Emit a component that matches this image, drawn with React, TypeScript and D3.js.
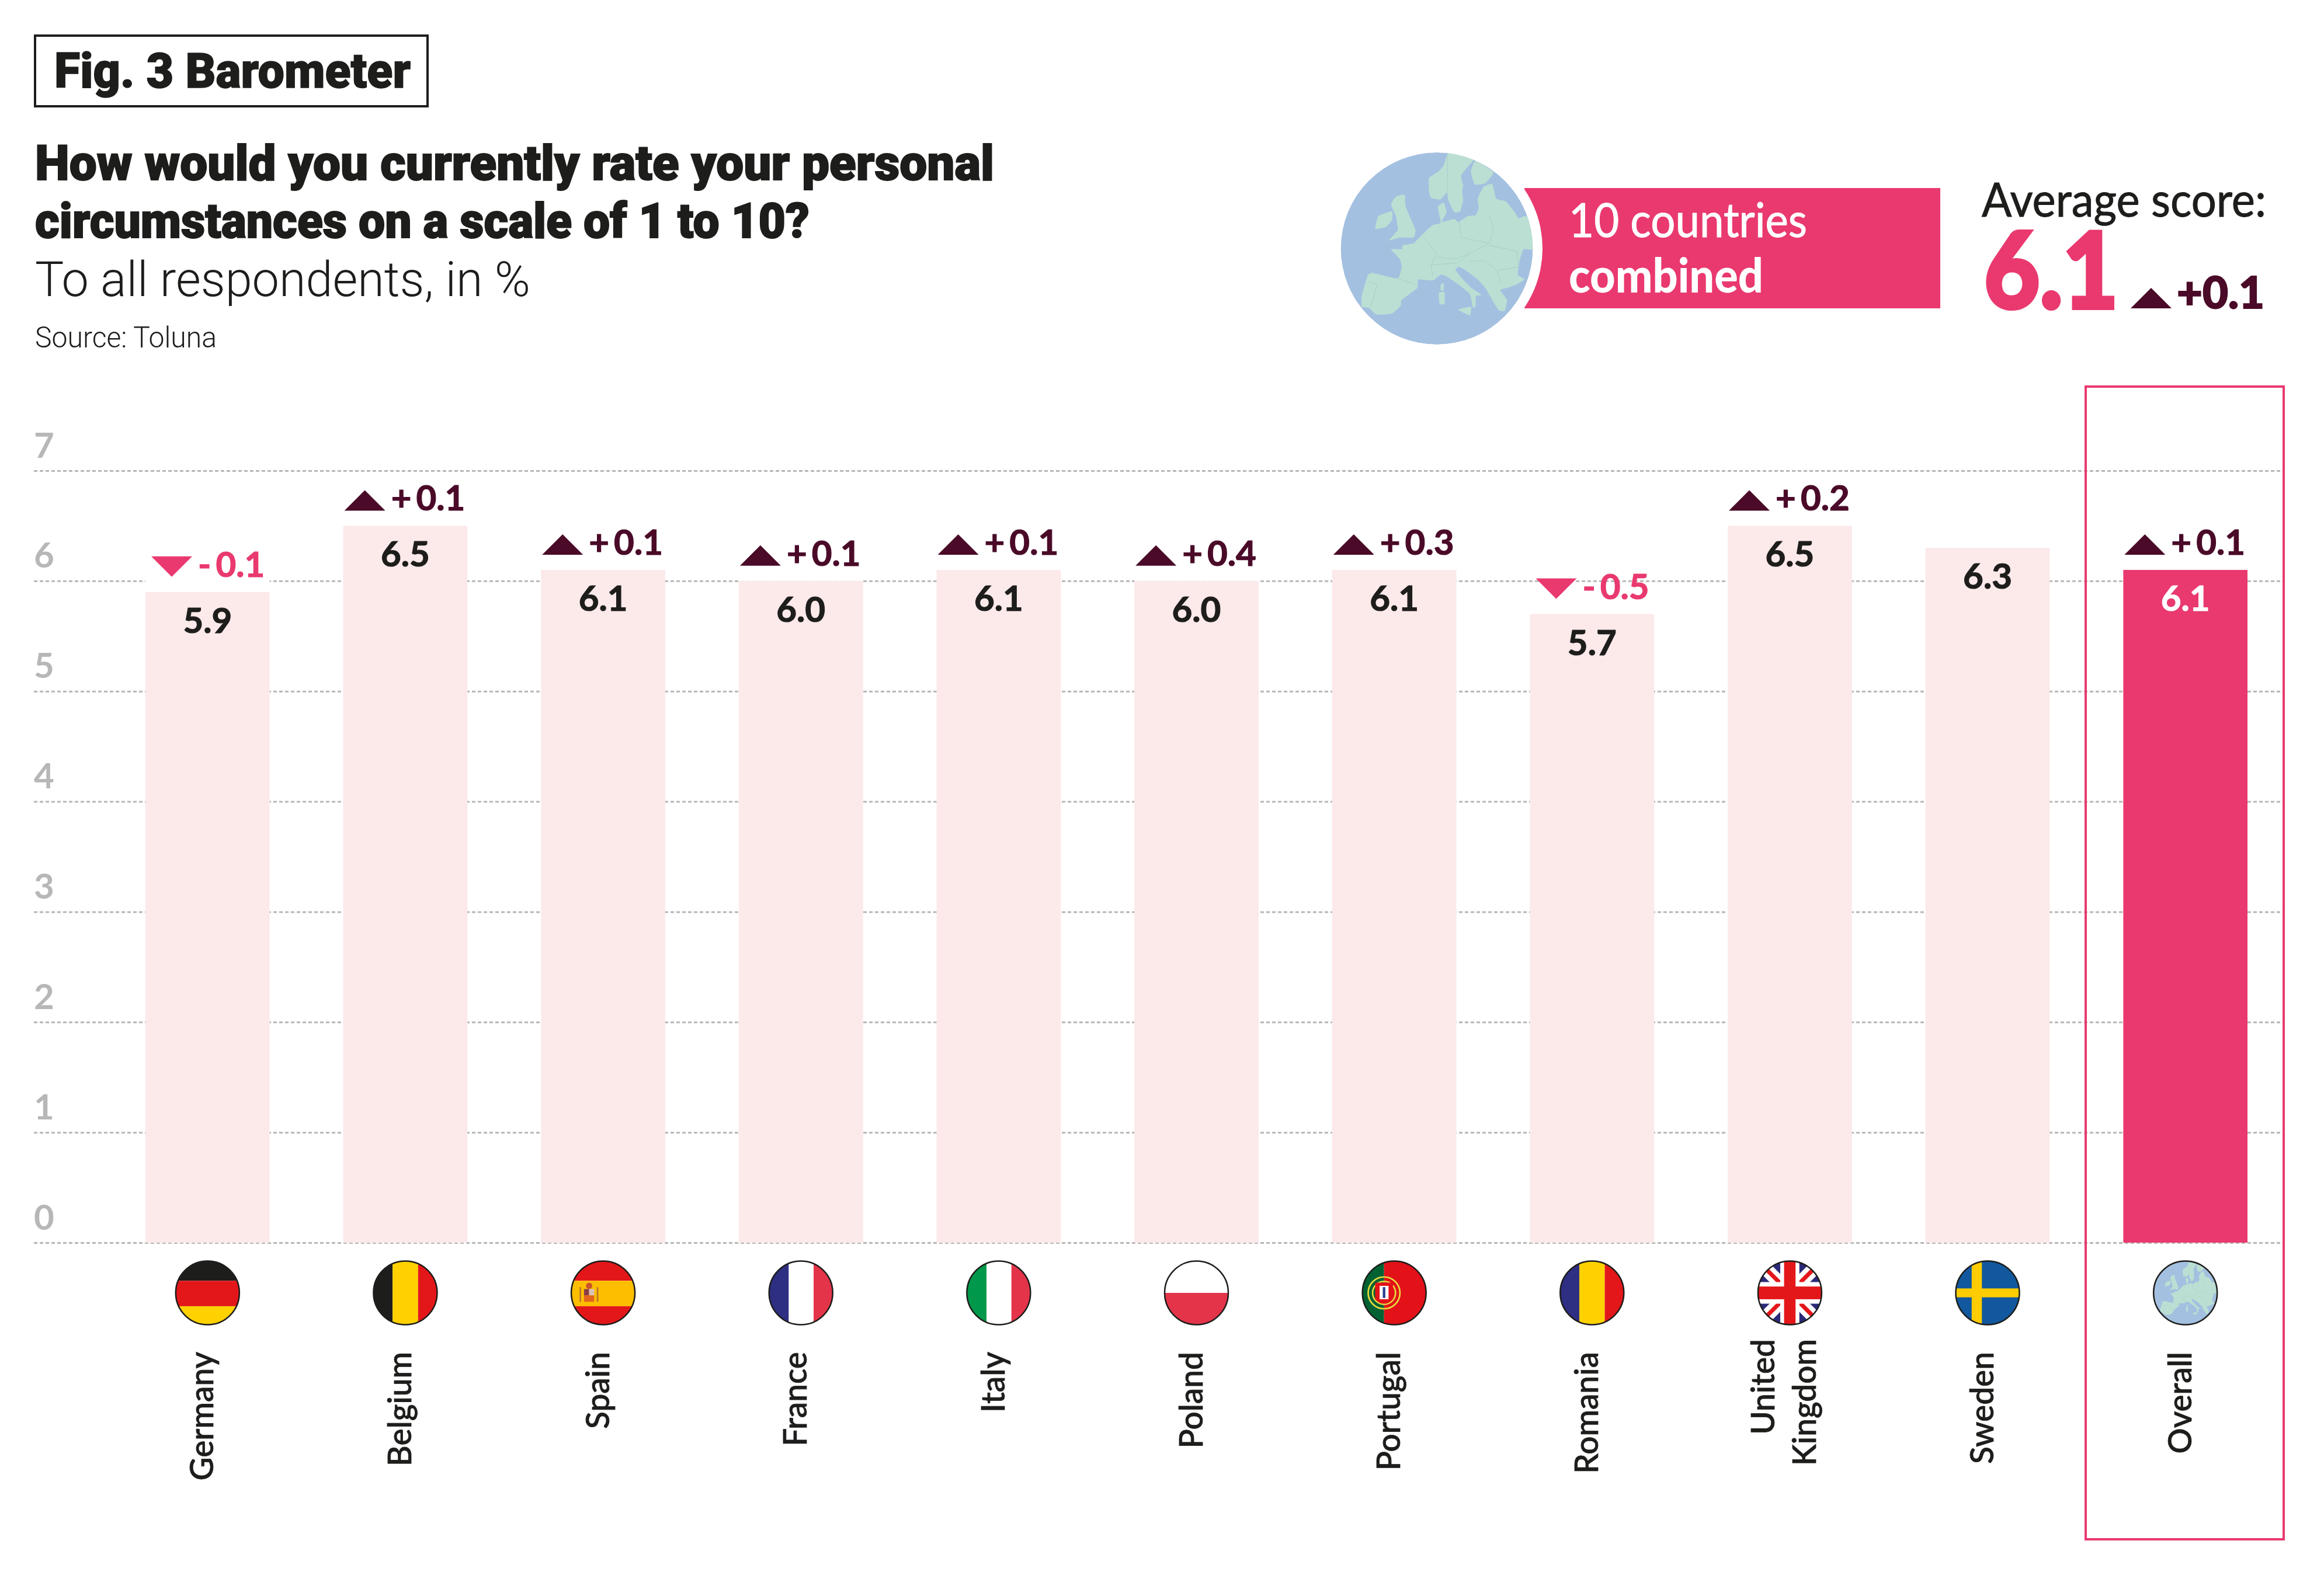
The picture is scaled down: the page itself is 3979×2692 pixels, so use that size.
import * as d3 from 'd3'
import { FC, useEffect, useRef } from 'react'

const countries = ['Germany', 'Belgium', 'Spain', 'France', 'Italy', 'Poland', 'Portugal', 'Romania', 'United Kingdom', 'Sweden', 'Overall']
const scores = [5.9, 6.5, 6.1, 6.0, 6.1, 6.0, 6.1, 5.7, 6.5, 6.3, 6.1]
const changes: (number | null)[] = [-0.1, 0.1, 0.1, 0.1, 0.1, 0.4, 0.3, -0.5, 0.2, null, 0.1]
const yTicks = [0, 1, 2, 3, 4, 5, 6, 7]

const PINK = '#e9396f'
const PALE = '#fce9ea'
const DARK = '#1d1d1b'
const WINE = '#4a0a28'
const GREY = '#b7b7b7'
const OCEAN = '#a4c0e0'
const LAND = '#bbdfd3'
const SANS = 'Lato, sans-serif'

// stripes: direction, then colours with their share of the flag
type Stripes = { dir: 'h' | 'v', parts: [string, number][] }
const flagStripes: Record<string, Stripes> = {
    Germany: { dir: 'h', parts: [['#1d1d1b', 0.31], ['#e3171a', 0.4], ['#ffd100', 0.29]] },
    Belgium: { dir: 'v', parts: [['#1d1d1b', 0.3], ['#ffd100', 0.4], ['#e3171a', 0.3]] },
    Spain: { dir: 'h', parts: [['#e3171a', 0.31], ['#fdbe00', 0.4], ['#e3171a', 0.29]] },
    France: { dir: 'v', parts: [['#2e2e82', 0.31], ['#ffffff', 0.39], ['#e4344a', 0.3]] },
    Italy: { dir: 'v', parts: [['#00984a', 0.31], ['#ffffff', 0.39], ['#e4344a', 0.3]] },
    Poland: { dir: 'h', parts: [['#ffffff', 0.5], ['#e4344a', 0.5]] },
    Portugal: { dir: 'v', parts: [['#006233', 0.34], ['#e31118', 0.66]] },
    Romania: { dir: 'v', parts: [['#2e2e82', 0.3], ['#ffd100', 0.4], ['#e3171a', 0.3]] },
}

// rough outline of Europe, traced on a 986 wide globe centred on (630, 586)
const mainland: [number, number][] = [[245, 830], [275, 725], [300, 712], [430, 740], [450, 680], [440, 640], [395, 590], [450, 590], [455, 570], [510, 560], [545, 525], [580, 490], [610, 465], [650, 455], [640, 400], [635, 370], [665, 350], [680, 400], [655, 450], [720, 435], [740, 450], [790, 420], [830, 415], [845, 380], [840, 330], [870, 270], [915, 255], [935, 330], [985, 345], [1030, 400], [1050, 430], [1085, 420], [1130, 470], [1130, 590], [1075, 590], [1055, 650], [1045, 720], [1080, 745], [1040, 770], [985, 790], [955, 800], [990, 850], [980, 905], [950, 905], [920, 860], [880, 790], [840, 745], [780, 700], [745, 680], [725, 695], [760, 740], [810, 790], [860, 825], [830, 830], [830, 880], [815, 890], [800, 820], [740, 770], [680, 730], [650, 720], [610, 750], [535, 745], [530, 790], [450, 850], [445, 880], [400, 920], [320, 925], [280, 890], [245, 885]]
const scandinavia: [number, number][] = [[690, 95], [790, 115], [820, 130], [755, 210], [765, 260], [760, 290], [765, 340], [750, 395], [720, 400], [690, 340], [680, 300], [650, 335], [600, 325], [590, 290], [590, 225], [640, 190], [665, 160]]
const finland: [number, number][] = [[830, 135], [920, 195], [880, 250], [825, 258], [805, 190]]
const britain: [number, number][] = [[420, 320], [465, 310], [470, 370], [520, 490], [510, 530], [440, 530], [385, 545], [430, 490], [420, 420], [395, 360]]
const ireland: [number, number][] = [[330, 420], [400, 395], [400, 440], [370, 475], [315, 485]]
const sicily: [number, number][] = [[740, 900], [805, 885], [800, 930]]
const sardinia: [number, number][] = [[640, 815], [670, 810], [670, 870], [645, 870]]
const corsica: [number, number][] = [[650, 770], [665, 765], [665, 800], [650, 800]]
const landShapes = [mainland, scandinavia, finland, britain, ireland, sicily, sardinia, corsica]
const borders: [number, number][][] = [
    [[285, 760], [325, 770], [290, 890]],
    [[430, 740], [530, 775]],
    [[560, 530], [630, 610], [600, 670], [610, 730]],
    [[745, 450], [755, 530], [900, 560], [920, 490], [900, 420]],
    [[630, 630], [730, 640], [800, 610], [900, 560]],
    [[600, 670], [740, 660], [800, 610]],
    [[900, 570], [1040, 600], [1050, 680], [940, 700], [880, 650], [800, 650]],
    [[940, 700], [960, 770]],
    [[685, 110], [685, 320]],
]

const globeLine = d3.line().curve(d3.curveCardinalClosed.tension(0.6))
const borderLine = d3.line()

const Globe: FC<{ id: string, cx: number, cy: number, r: number, outline?: boolean }> = ({ id, cx, cy, r, outline }) => {
    const gx = d3.scaleLinear().domain([137, 1123]).range([cx - r, cx + r])
    const gy = d3.scaleLinear().domain([93, 1079]).range([cy - r, cy + r])
    const project = (pts: [number, number][]) => pts.map(([a, b]) => [gx(a), gy(b)] as [number, number])
    return (
        <g>
            <clipPath id={id}><circle cx={cx} cy={cy} r={r} /></clipPath>
            <g clipPath={`url(#${id})`}>
                <circle cx={cx} cy={cy} r={r} fill={OCEAN} />
                {landShapes.map((s, i) => <path key={i} d={globeLine(project(s))!} fill={LAND} />)}
                {borders.map((s, i) => <path key={i} d={borderLine(project(s))!} fill="none" stroke="#a8cfc8" strokeWidth={r / 165} />)}
            </g>
            {outline && <circle cx={cx} cy={cy} r={r} fill="none" stroke={DARK} strokeWidth={2.5} />}
        </g>
    )
}

const Flag: FC<{ name: string, cx: number, cy: number, r: number }> = ({ name, cx, cy, r }) => {
    if (name === 'Overall') return <Globe id="globe-small" cx={cx} cy={cy} r={r} outline />
    const id = `flag-${name.replace(' ', '')}`
    const fx = d3.scaleLinear().domain([0, 1]).range([cx - r, cx + r])
    const fy = d3.scaleLinear().domain([0, 1]).range([cy - r, cy + r])
    const stripes = flagStripes[name]
    let pos = 0
    return (
        <g>
            <clipPath id={id}><circle cx={cx} cy={cy} r={r} /></clipPath>
            <g clipPath={`url(#${id})`}>
                {stripes && stripes.parts.map(([c, share], i) => {
                    const start = pos
                    pos += share
                    return stripes.dir === 'h'
                        ? <rect key={i} x={fx(0)} y={fy(start)} width={2 * r} height={2 * r * share} fill={c} />
                        : <rect key={i} x={fx(start)} y={fy(0)} width={2 * r * share} height={2 * r} fill={c} />
                })}
                {name === 'Spain' && (
                    <g>
                        <rect x={fx(0.13)} y={fy(0.41)} width={r * 0.05} height={r * 0.46} fill="#b9762a" />
                        <rect x={fx(0.4)} y={fy(0.41)} width={r * 0.05} height={r * 0.46} fill="#b9762a" />
                        <circle cx={fx(0.28)} cy={fy(0.39)} r={r * 0.1} fill="#c8532a" />
                        <rect x={fx(0.2)} y={fy(0.44)} width={r * 0.16} height={r * 0.2} fill="#8a3b4a" />
                        <rect x={fx(0.28)} y={fy(0.44)} width={r * 0.16} height={r * 0.2} fill="#d9c2b8" />
                        <rect x={fx(0.2)} y={fy(0.54)} width={r * 0.32} height={r * 0.2} fill="#e2661f" />
                    </g>
                )}
                {name === 'Portugal' && (
                    <g>
                        <circle cx={fx(0.34)} cy={fy(0.5)} r={r * 0.5} fill="none" stroke="#e6d93c" strokeWidth={r * 0.05} />
                        <circle cx={fx(0.34)} cy={fy(0.5)} r={r * 0.36} fill="none" stroke="#e6d93c" strokeWidth={r * 0.05} />
                        <path d={`M${fx(0.2)},${fy(0.34)}H${fx(0.48)}V${fy(0.6)}Q${fx(0.34)},${fy(0.74)} ${fx(0.2)},${fy(0.6)}Z`} fill="#e31118" />
                        <rect x={fx(0.27)} y={fy(0.39)} width={r * 0.28} height={r * 0.42} fill="#ffffff" />
                        <rect x={fx(0.32)} y={fy(0.41)} width={r * 0.08} height={r * 0.34} fill="#2a3f8f" />
                    </g>
                )}
                {name === 'Sweden' && (
                    <g>
                        <rect x={fx(0)} y={fy(0)} width={2 * r} height={2 * r} fill="#12589e" />
                        <rect x={fx(0.25)} y={fy(0)} width={r * 0.32} height={2 * r} fill="#fecc00" />
                        <rect x={fx(0)} y={fy(0.43)} width={2 * r} height={r * 0.28} fill="#fecc00" />
                    </g>
                )}
                {name === 'United Kingdom' && (
                    <g>
                        <rect x={fx(0)} y={fy(0)} width={2 * r} height={2 * r} fill="#2c2a78" />
                        <path d={`M${fx(0)},${fy(0)}L${fx(1)},${fy(1)}M${fx(1)},${fy(0)}L${fx(0)},${fy(1)}`} stroke="#ffffff" strokeWidth={r * 0.42} />
                        <path d={`M${fx(0)},${fy(0)}L${fx(1)},${fy(1)}M${fx(1)},${fy(0)}L${fx(0)},${fy(1)}`} stroke="#e3171a" strokeWidth={r * 0.13} />
                        <rect x={fx(0.35)} y={fy(0)} width={r * 0.6} height={2 * r} fill="#ffffff" />
                        <rect x={fx(0)} y={fy(0.33)} width={2 * r} height={r * 0.68} fill="#ffffff" />
                        <rect x={fx(0.41)} y={fy(0)} width={r * 0.36} height={2 * r} fill="#e3171a" />
                        <rect x={fx(0)} y={fy(0.4)} width={2 * r} height={r * 0.4} fill="#e3171a" />
                    </g>
                )}
            </g>
            <circle cx={cx} cy={cy} r={r} fill="none" stroke={DARK} strokeWidth={2.5} />
        </g>
    )
}

const trianglePath = (x: number, base: number, up: boolean) => {
    const w = 70
    const h = 35
    return up
        ? `M${x},${base}L${x + w},${base}L${x + w / 2},${base - h}Z`
        : `M${x},${base - h}L${x + w},${base - h}L${x + w / 2},${base}Z`
}

const App: FC = () => {
    const width = 3979
    const height = 2692
    const axisRef = useRef<SVGGElement>(null)

    const x = d3.scaleBand<string>().domain(countries).range([249, 3848]).paddingInner(0.372).paddingOuter(0)
    const y = d3.scaleLinear().domain([0, 7]).range([2128, 806])

    useEffect(() => {
        const axis = d3.axisRight(y).tickValues(yTicks).tickSize(3851).tickFormat(d3.format('d') as any)
        const g = d3.select(axisRef.current!).call(axis as any)
        g.select('.domain').remove()
        g.selectAll('.tick line')
            .attr('stroke', GREY)
            .attr('stroke-width', 3)
            .attr('stroke-dasharray', '6 4')
        g.selectAll('.tick text')
            .attr('x', 0)
            .attr('dy', -23)
            .attr('text-anchor', 'start')
            .attr('fill', GREY)
            .attr('font-family', SANS)
            .attr('font-weight', 700)
            .attr('font-size', 60)
    }, [])

    const bw = x.bandwidth()

    return (
        <svg width={width} height={height} style={{ position: 'absolute', left: 0, top: 0, display: 'block', background: '#fff' }}>
            {/* header */}
            <rect x={60} y={61} width={672} height={121} fill="none" stroke={DARK} strokeWidth={4} />
            <text x={93} y={150} fontFamily="Roboto, sans-serif" fontWeight={900} fontSize={84} fill={DARK} stroke={DARK} strokeWidth={1.5} textLength={610} lengthAdjust="spacingAndGlyphs">Fig. 3 Barometer</text>
            <text x={60} y={308} fontFamily="Roboto, sans-serif" fontWeight={900} fontSize={84} fill={DARK} stroke={DARK} strokeWidth={2} textLength={1642} lengthAdjust="spacingAndGlyphs">How would you currently rate your personal</text>
            <text x={60} y={407} fontFamily="Roboto, sans-serif" fontWeight={900} fontSize={84} fill={DARK} stroke={DARK} strokeWidth={2} textLength={1326} lengthAdjust="spacingAndGlyphs">circumstances on a scale of 1 to 10?</text>
            <text x={60} y={507} fontFamily="Roboto, sans-serif" fontWeight={300} fontSize={84} fill={DARK} textLength={848} lengthAdjust="spacingAndGlyphs">To all respondents, in %</text>
            <text x={60} y={595} fontFamily="Roboto, sans-serif" fontWeight={300} fontSize={50} fill={DARK} textLength={311} lengthAdjust="spacingAndGlyphs">Source: Toluna</text>

            {/* top right summary */}
            <rect x={2610} y={322} width={712} height={206} fill={PINK} />
            <circle cx={2460} cy={425.5} r={181} fill="#fff" />
            <Globe id="globe-large" cx={2460} cy={425.5} r={164.5} />
            <text x={2686} y={406} fontFamily={SANS} fontWeight={400} fontSize={82} fill="#fff" stroke="#fff" strokeWidth={1} textLength={408} lengthAdjust="spacingAndGlyphs">10 countries</text>
            <text x={2686} y={501} fontFamily={SANS} fontWeight={900} fontSize={82} fill="#fff" textLength={333} lengthAdjust="spacingAndGlyphs">combined</text>
            <text x={3393} y={371} fontFamily={SANS} fontWeight={400} fontSize={82} fill={DARK} stroke={DARK} strokeWidth={1} textLength={487} lengthAdjust="spacingAndGlyphs">Average score:</text>
            <text x={3397} y={528} fontFamily={SANS} fontWeight={900} fontSize={182} fill={PINK} stroke={PINK} strokeWidth={6} textLength={230} lengthAdjust="spacingAndGlyphs">6.1</text>
            <path d={trianglePath(3648, 528, true)} fill={WINE} />
            <text x={3727} y={528} fontFamily={SANS} fontWeight={900} fontSize={76} fill={WINE} stroke={WINE} strokeWidth={2} textLength={150} lengthAdjust="spacingAndGlyphs">+0.1</text>

            {/* grid and y labels */}
            <g ref={axisRef} transform="translate(58,0)" />

            {/* bars */}
            {countries.map((c, i) => {
                const bx = x(c)!
                const top = y(scores[i])
                const overall = c === 'Overall'
                const change = changes[i]
                const up = change !== null && change > 0
                const labelFill = overall ? '#fff' : DARK
                return (
                    <g key={c}>
                        {change !== null && <rect x={bx} y={top - 26} width={bw} height={26} fill="#fff" />}
                        <rect x={bx} y={top} width={bw} height={y(0) - top} fill={overall ? PINK : PALE} />
                        <text x={bx + bw / 2} y={top + 70} textAnchor="middle" fontFamily={SANS} fontWeight={700} fontSize={60} fill={labelFill} stroke={labelFill} strokeWidth={1.2}>
                            {scores[i].toFixed(1)}
                        </text>
                        {change !== null && (
                            <g>
                                <path d={trianglePath(bx + (up ? 2 : 10), top - 26, up)} fill={up ? WINE : PINK} />
                                <text x={bx + (up ? 82 : 90)} y={top - 26} fontFamily={SANS} fontWeight={700} fontSize={60} fill={up ? WINE : PINK} stroke={up ? WINE : PINK} strokeWidth={1.2}>
                                    {up ? '+' : '-'}
                                    <tspan dx={8}>{Math.abs(change).toFixed(1)}</tspan>
                                </text>
                            </g>
                        )}
                    </g>
                )
            })}

            {/* flags and country names */}
            {countries.map(c => {
                const cx = x(c)! + bw / 2
                const lines = c === 'United Kingdom' ? ['United', 'Kingdom'] : [c]
                return (
                    <g key={c}>
                        <Flag name={c} cx={cx} cy={2214} r={54.5} />
                        {lines.map((t, j) => (
                            <text
                                key={t}
                                transform={`translate(${lines.length > 1 ? cx - 26 + j * 71 : cx + 10},${lines.length > 1 ? 2293 : 2315}) rotate(-90)`}
                                textAnchor="end"
                                fontFamily={SANS}
                                fontWeight={500}
                                fontSize={55}
                                fill={DARK}
                                stroke={DARK}
                                strokeWidth={0.8}
                            >
                                {t}
                            </text>
                        ))}
                    </g>
                )
            })}

            {/* highlight frame round the overall column */}
            <rect x={3571} y={662} width={339} height={1974} fill="none" stroke={PINK} strokeWidth={4} />
        </svg>
    )
}

export default App
